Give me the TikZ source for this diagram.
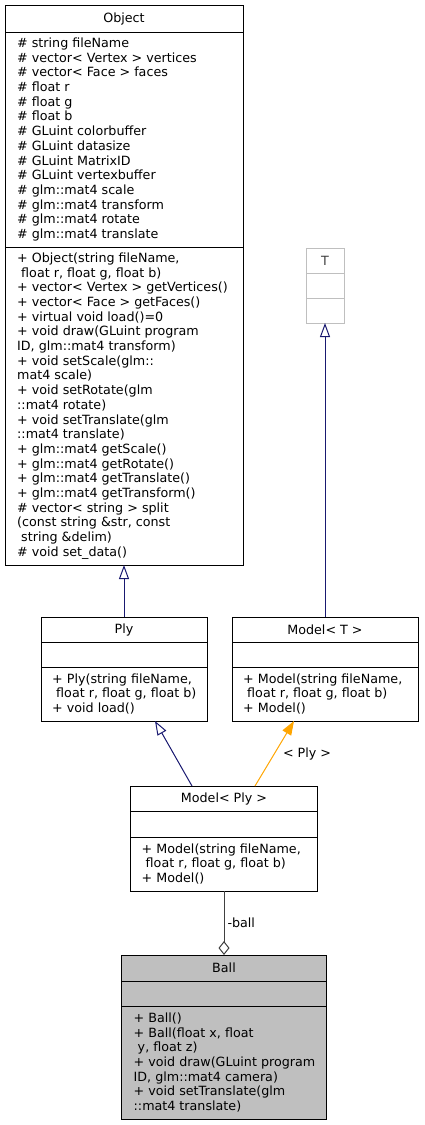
\documentclass[tikz,border=0pt]{standalone}
\usepackage{fontspec}
\setmainfont{DejaVu Sans}
\usetikzlibrary{positioning,arrows.meta}
\definecolor{navyline}{HTML}{191970}
\definecolor{edgegray}{HTML}{404040}
\definecolor{boxgray}{HTML}{BFBFBF}
\definecolor{bindorange}{HTML}{FFA500}
\newcommand{\umlfont}{\fontsize{12.7}{14.7}\selectfont}

\begin{document}
\begin{tikzpicture}[x=1pt,y=1pt]
  \tikzset{cell/.style = {draw, line width=1pt, inner sep=0pt, outer sep=0pt, font=\umlfont}}
  \tikzset{members/.style = {inner sep=0pt, align=left, anchor=west, font=\umlfont}}
  \tikzset{inherit/.style = {draw=navyline, line width=1pt, -{Triangle[open, length=14pt, width=10pt]}}}
  \tikzset{bind/.style = {draw=bindorange, line width=1pt, -{Triangle[length=14pt, width=10pt]}}}
  \tikzset{aggr/.style = {draw=edgegray, line width=1pt, -{Diamond[open, length=14pt, width=11pt]}}}

\useasboundingbox (0,0) rectangle (424,-1125);

% Object
\node[cell, minimum width=238, minimum height=27] (object) at (124,-18.5) {Object};
\node[cell, minimum width=238, minimum height=215, below=0 of object] (objattr) {};
\node[cell, minimum width=238, minimum height=318, below=0 of objattr] (objmeth) {};
\node[members, right=12 of objattr.west] (objattrtxt) {\# string fileName\\
\# vector< Vertex > vertices\\
\# vector< Face > faces\\
\# float r\\
\# float g\\
\# float b\\
\# GLuint colorbuffer\\
\# GLuint datasize\\
\# GLuint MatrixID\\
\# GLuint vertexbuffer\\
\# glm::mat4 scale\\
\# glm::mat4 transform\\
\# glm::mat4 rotate\\
\# glm::mat4 translate};
\node[members, right=12 of objmeth.west] (objmethtxt) {+ Object(string fileName,\\
\ float r, float g, float b)\\
+ vector< Vertex > getVertices()\\
+ vector< Face > getFaces()\\
+ virtual void load()=0\\
+ void draw(GLuint program\\
ID, glm::mat4 transform)\\
+ void setScale(glm::\\
mat4 scale)\\
+ void setRotate(glm\\
::mat4 rotate)\\
+ void setTranslate(glm\\
::mat4 translate)\\
+ glm::mat4 getScale()\\
+ glm::mat4 getRotate()\\
+ glm::mat4 getTranslate()\\
+ glm::mat4 getTransform()\\
\# vector< string > split\\
(const string \&str, const\\
\ string \&delim)\\
\# void set\_data()};

% T
\node[cell, draw=boxgray, text=edgegray, minimum width=38, minimum height=25] (t) at (325,-260.5) {T};
\node[cell, draw=boxgray, minimum width=38, minimum height=25, below=0 of t] (tattr) {};
\node[cell, draw=boxgray, minimum width=38, minimum height=25, below=0 of tattr] (tmeth) {};

% Ply
\node[cell, minimum width=166, minimum height=25] (ply) at (124,-629.5) {Ply};
\node[cell, minimum width=166, minimum height=25, below=0 of ply] (plyattr) {};
\node[cell, minimum width=166, minimum height=54, below=0 of plyattr] (plymeth) {};
\node[members, right=11 of plymeth.west] (plymethtxt) {+ Ply(string fileName,\\
\ float r, float g, float b)\\
+ void load()};

% Model< T >
\node[cell, minimum width=186, minimum height=25] (modelt) at (325,-629.5) {Model< T >};
\node[cell, minimum width=186, minimum height=25, below=0 of modelt] (modeltattr) {};
\node[cell, minimum width=186, minimum height=54, below=0 of modeltattr] (modeltmeth) {};
\node[members, right=11 of modeltmeth.west] (modeltmethtxt) {+ Model(string fileName,\\
\ float r, float g, float b)\\
+ Model()};

% Model< Ply >
\node[cell, minimum width=187, minimum height=25] (modelply) at (224,-798.5) {Model< Ply >};
\node[cell, minimum width=187, minimum height=26, below=0 of modelply] (modelplyattr) {};
\node[cell, minimum width=187, minimum height=54, below=0 of modelplyattr] (modelplymeth) {};
\node[members, right=11 of modelplymeth.west] (modelplymethtxt) {+ Model(string fileName,\\
\ float r, float g, float b)\\
+ Model()};

% Ball
\node[cell, fill=boxgray, minimum width=205, minimum height=26] (ball) at (224,-968) {Ball};
\node[cell, fill=boxgray, minimum width=205, minimum height=25, below=0 of ball] (ballattr) {};
\node[cell, fill=boxgray, minimum width=205, minimum height=113, below=0 of ballattr] (ballmeth) {};
\node[members, right=12 of ballmeth.west] (ballmethtxt) {+ Ball()\\
+ Ball(float x, float\\
\ y, float z)\\
+ void draw(GLuint program\\
ID, glm::mat4 camera)\\
+ void setTranslate(glm\\
::mat4 translate)};

% edges
\path (ply) edge[inherit] (objmeth);
\path (modelt) edge[inherit] (tmeth);
\path ([xshift=-32]modelply.north) edge[inherit] ([xshift=31]plymeth.south);
\path ([xshift=31]modelply.north) edge[bind] node[right, inner sep=0pt, xshift=8pt, font=\umlfont] {< Ply >} ([xshift=-31]modeltmeth.south);
\path (modelplymeth) edge[aggr] node[right, inner sep=0pt, xshift=3pt, font=\umlfont] {-ball} (ball);

\end{tikzpicture}
\end{document}
